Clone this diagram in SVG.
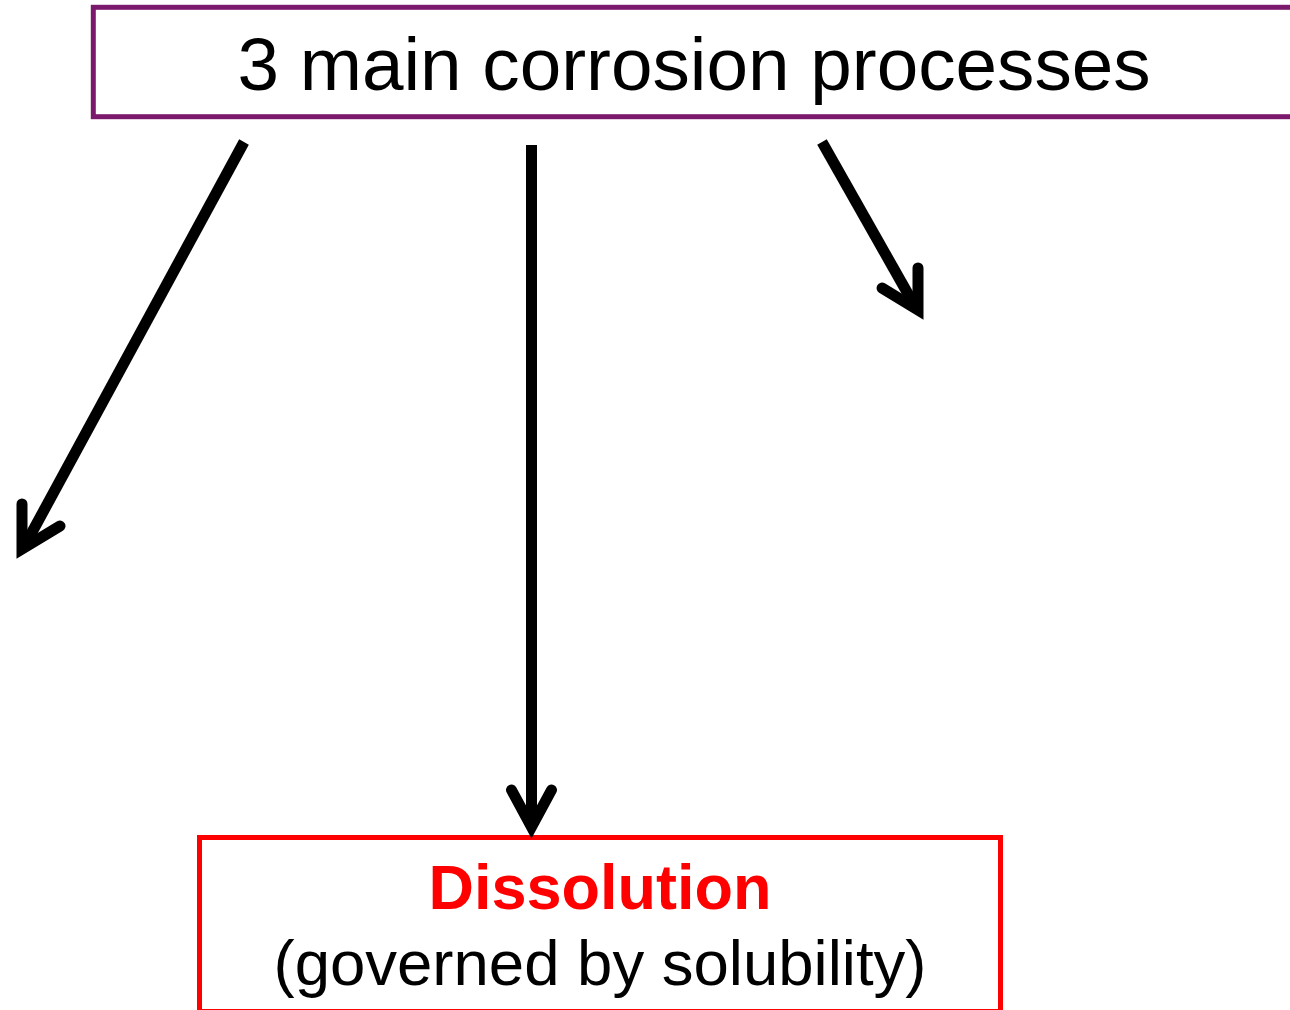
<svg xmlns="http://www.w3.org/2000/svg" width="1290" height="1010" viewBox="0 0 1290 1010">
<style>
.t{font-family:"Liberation Sans",Arial,sans-serif;text-anchor:middle;}
.ln{fill:none;stroke:#000;stroke-width:11;stroke-linecap:butt;}
.hd{fill:none;stroke:#000;stroke-width:11;stroke-linecap:round;stroke-linejoin:miter;stroke-miterlimit:10;}
</style>
<rect width="1290" height="1010" fill="#fff"/>
<g id="node-top">
<rect x="93.3" y="7.3" width="1220" height="109.4" fill="#fff" stroke="#7B1A6D" stroke-width="5"/>
<text class="t" x="694" y="90" font-size="74.7" fill="#000">3 main corrosion processes</text>
</g>
<g id="node-dissolution">
<rect x="199.5" y="837.5" width="801" height="174" fill="#fff" stroke="#FF0000" stroke-width="5"/>
<text class="t" x="600" y="909" font-size="63" font-weight="bold" fill="#FF0000">Dissolution</text>
<text class="t" x="600" y="985" font-size="63.5" fill="#000">(governed by solubility)</text>
</g>
<g id="connectors">
<path class="ln" d="M244,142 L24,547"/>
<path class="hd" d="M22,504 L22,549 L60,526"/>
<path class="ln" d="M531.5,145 L531.5,826"/>
<path class="hd" d="M511.5,790 L531.5,827 L551.5,790"/>
<path class="ln" d="M822,142 L916,308"/>
<path class="hd" d="M918,268 L918,310 L882,288"/>
</g>
</svg>
